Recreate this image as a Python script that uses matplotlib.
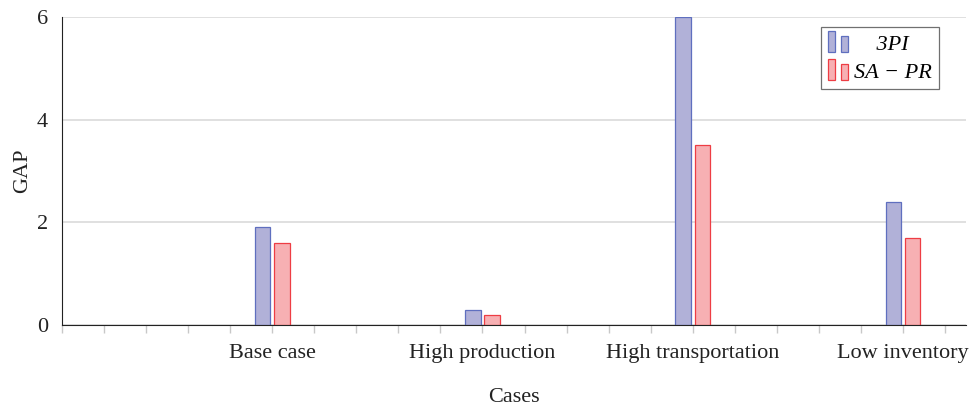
"""
GAP per case, 3PI vs SA-PR, pgfplots-like grouped bars
"""
import numpy as np
import matplotlib
matplotlib.use("Agg")
import matplotlib.pyplot as plt
from matplotlib.patches import Rectangle
from matplotlib.legend_handler import HandlerBase

cases = ["Base case", "High production", "High transportation", "Low inventory"]
gap_3pi = [1.9, 0.3, 6.0, 2.4]
gap_sapr = [1.6, 0.2, 3.5, 1.7]
series_names = ["    3PI", "SA \u2212 PR"]

plt.rcParams['font.family'] = ['Liberation Serif', 'DejaVu Serif']
plt.rcParams['font.size'] = 16


class TwoBars(HandlerBase):
    # pgfplots ybar legend: two little bars side by side
    def create_artists(self, legend, orig, xd, yd, w, h, fs, trans):
        p = orig.patches[0] if hasattr(orig, 'patches') else orig
        fc, ec = p.get_facecolor(), p.get_edgecolor()
        r1 = Rectangle((-xd, -yd - 0.1 * h), 0.33 * w, 1.25 * h, fc=fc, ec=ec, lw=0.9, transform=trans)
        r2 = Rectangle((-xd + 0.62 * w, -yd - 0.1 * h), 0.33 * w, 0.95 * h, fc=fc, ec=ec, lw=0.9, transform=trans)
        return [r1, r2]


fig = plt.figure(figsize=(9.76, 4.07), dpi=100)
ax = fig.add_axes([0.0635, 0.2015, 0.9263, 0.7567])

x = np.arange(len(cases))
w = 0.074
b1 = ax.bar(x - 0.046, gap_3pi, w, color='#b1b1d8', edgecolor='#5f6fbf', lw=0.9, zorder=3)
b2 = ax.bar(x + 0.046, gap_sapr, w, color='#f7b0b3', edgecolor='#ee3d44', lw=0.9, zorder=3)

ax.set_xlim(-1.0, 3.3)
ax.set_ylim(0, 6)
ticks = np.round(np.arange(-1.0, 3.25, 0.2), 2)
ax.set_xticks(ticks)
ax.set_xticklabels([cases[int(round(t))] if abs(t - round(t)) < 1e-6 and 0 <= round(t) < len(cases) else '' for t in ticks])
ax.tick_params(axis='x', length=6, width=1, color='#c8c8c8', pad=8, labelsize=16, labelcolor='#222222')
ax.set_yticks([0, 2, 4, 6])
ax.tick_params(axis='y', length=0, pad=10, labelsize=16, labelcolor='#222222')

ax.grid(axis='y', color='#dadada', lw=1.2, zorder=0)
for s in ['top', 'right']:
    ax.spines[s].set_visible(False)
ax.spines['left'].set_color('#222222')
ax.spines['bottom'].set_color('#222222')
ax.spines['bottom'].set_zorder(4)

ax.set_xlabel("Cases", fontsize=16, color='#222222', labelpad=18)
ax.set_ylabel("GAP", fontsize=16, color='#222222')
ax.yaxis.set_label_coords(-0.033, 0.5)

leg = ax.legend(handles=[b1, b2], labels=series_names,
                handler_map={type(b1): TwoBars()},
                loc='upper right', bbox_to_anchor=(0.970, 0.9675), borderaxespad=0,
                fancybox=False, edgecolor='#707070', framealpha=1,
                handlelength=0.95, handleheight=0.8, handletextpad=0.25,
                labelspacing=0.3, borderpad=0.3, prop={'style': 'italic', 'size': 16})
leg.get_frame().set_linewidth(0.9)

fig.savefig("out.png", dpi=100)
